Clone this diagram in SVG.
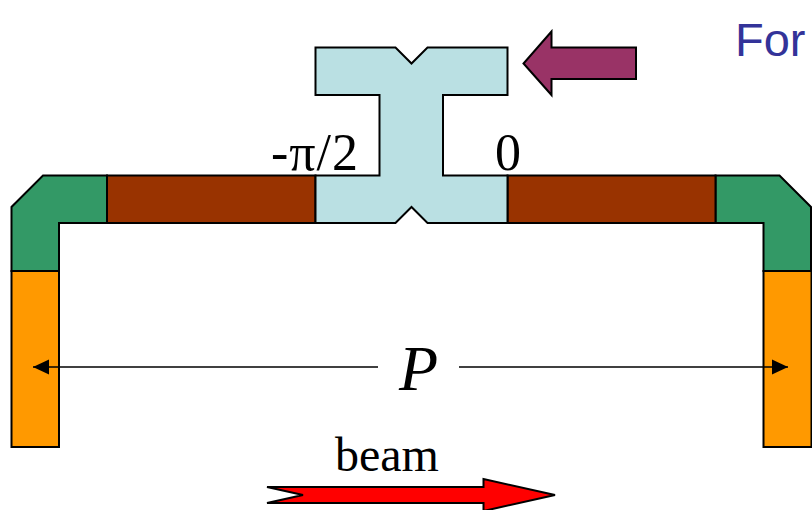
<svg xmlns="http://www.w3.org/2000/svg" width="812" height="510" viewBox="0 0 812 510">
<defs>
<marker id="ah" markerWidth="17" markerHeight="16" refX="16" refY="8" orient="auto-start-reverse" markerUnits="userSpaceOnUse"><path d="M0,0.500 L16,8 L0,15.500 Z" fill="#000"/></marker>
</defs>
<style>
.s{stroke:#000;stroke-width:2;stroke-linejoin:miter}
.t{font-family:"Liberation Serif","Times New Roman",serif;fill:#000}
</style>
<rect width="812" height="510" fill="#fff"/>
<g id="left-leg"><rect class="s" x="11.500" y="271" width="47.500" height="176" fill="#ff9900"/></g>
<g id="right-leg"><rect class="s" x="763.500" y="271" width="48" height="176" fill="#ff9900"/></g>
<g id="left-corner"><path class="s" d="M107,175.500 H43 L11.500,207 V271 H59 V223 H107 Z" fill="#339966"/></g>
<g id="right-corner"><path class="s" d="M715.500,175.500 H779.500 L811,207 V271 H763.500 V223 H715.500 Z" fill="#339966"/></g>
<g id="left-bar"><rect class="s" x="107" y="175.500" width="208.500" height="47.500" fill="#993300"/></g>
<g id="right-bar"><rect class="s" x="507.500" y="175.500" width="208" height="47.500" fill="#993300"/></g>
<g id="coupler"><path class="s" d="M315.500,47.500 H395.500 L411.500,63.500 L427.500,47.500 H507.500 V95 H443 V175.500 H507.500 V223 H427.500 L411.500,207 L395.500,223 H315.500 V175.500 H379.500 V95 H315.500 Z" fill="#bae0e3"/></g>
<g id="force-arrow"><path class="s" d="M636,47.500 H551.500 V31.500 L523.500,63.500 L551.500,95 V79 H636 Z" fill="#993366"/></g>
<g id="beam-arrow"><path class="s" d="M267,487 H483.500 V479 L555,495 L483.500,511 V503 H267 L303,495 Z" fill="#ff0000"/></g>
<g id="connectors">
<path d="M378,367 H33" fill="none" stroke="#000" stroke-width="1.700" marker-end="url(#ah)"/>
<path d="M459,367 H788" fill="none" stroke="#000" stroke-width="1.700" marker-end="url(#ah)"/>
</g>
<g id="labels">
<text x="735" y="56" font-family="'Liberation Sans',Arial,sans-serif" font-size="47" fill="#333399">For</text>
<text class="t" x="271" y="170" font-size="52" textLength="87" lengthAdjust="spacing">-π/2</text>
<text class="t" x="495" y="170" font-size="52">0</text>
<text class="t" x="399" y="390" font-size="64" font-style="italic">P</text>
<text class="t" x="335" y="471" font-size="48">beam</text>
</g>
</svg>
